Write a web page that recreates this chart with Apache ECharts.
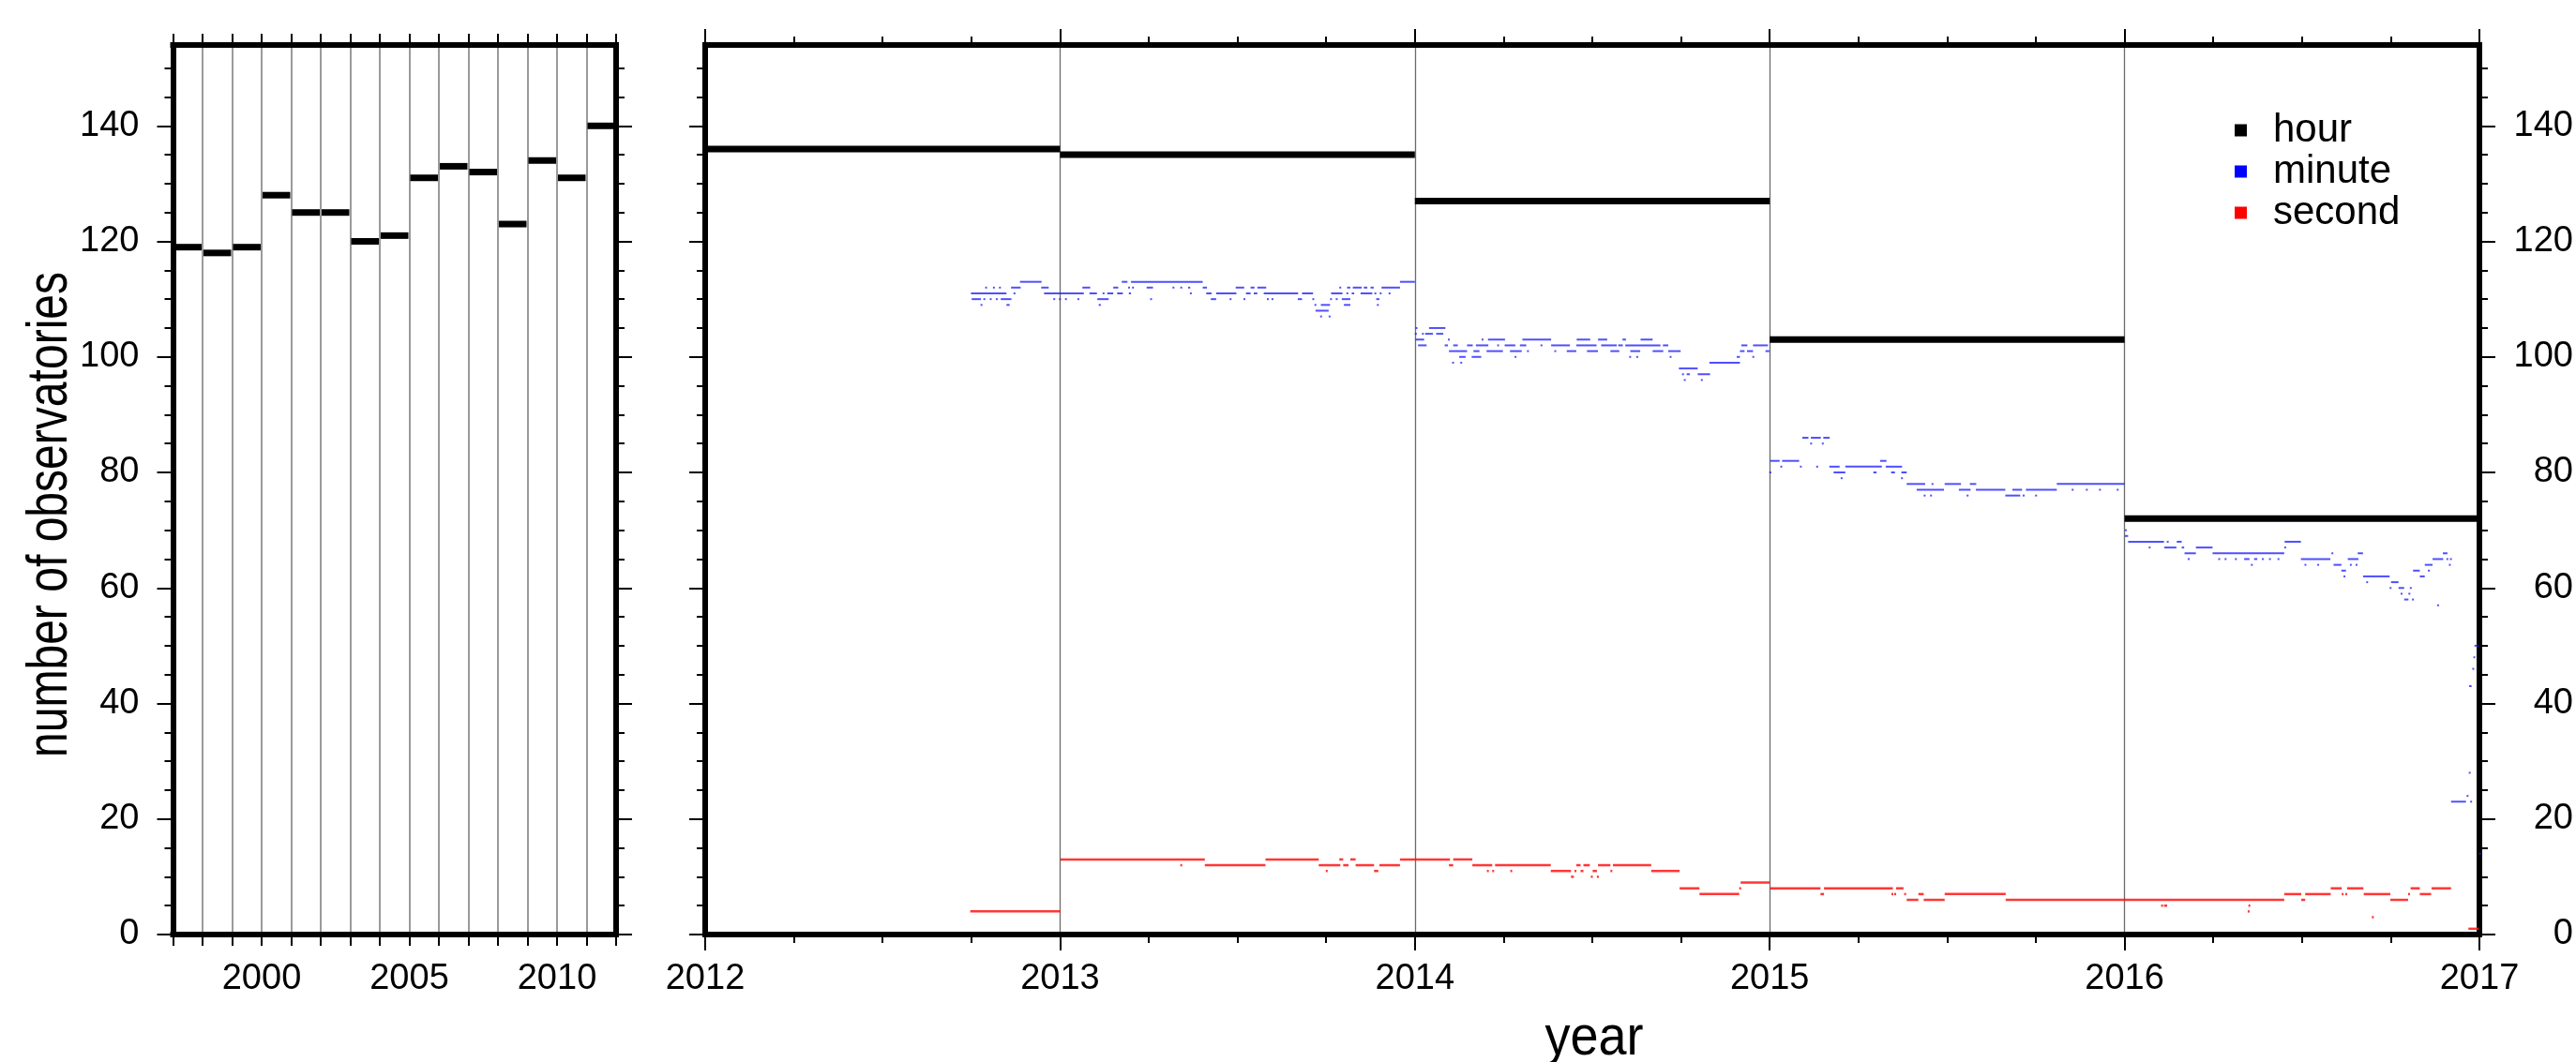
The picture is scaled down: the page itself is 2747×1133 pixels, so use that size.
<!DOCTYPE html>
<html>
<head>
<meta charset="utf-8">
<title>number of observatories</title>
<script src="https://cdn.jsdelivr.net/npm/echarts@6/dist/echarts.min.js"></script>
<style>
  html, body { margin: 0; padding: 0; background: #ffffff; }
  #chart { width: 2747px; height: 1133px; }
</style>
</head>
<body>
<div id="chart"></div>
<script>
// ---- data -------------------------------------------------------------
// yearly count of observatories delivering hourly means, 1997-2011
const earlyYears = [1997, 1998, 1999, 2000, 2001, 2002, 2003, 2004, 2005, 2006, 2007, 2008, 2009, 2010, 2011];
const earlyHourCounts = [119, 118, 119, 128, 125, 125, 120, 121, 131, 133, 132, 123, 134, 131, 140];

// yearly count of observatories delivering hourly means, 2012-2016
const recentYears = [2012, 2013, 2014, 2015, 2016];
const recentHourCounts = [136, 135, 127, 103, 72];

// daily counts of minute-data observatories, as runs [from, to, count] (decimal years)
const minuteRuns = [
  [2012.887, 2012.948, 113], [2013.174, 2013.19, 113], [2013.2, 2013.402, 113], [2013.958, 2014.0, 113],
  [2012.789, 2012.789, 112], [2012.811, 2012.811, 112], [2012.828, 2012.828, 112], [2012.862, 2012.889, 112],
  [2012.947, 2012.968, 112], [2013.063, 2013.085, 112], [2013.150, 2013.164, 112], [2013.192, 2013.192, 112],
  [2013.203, 2013.203, 112], [2013.244, 2013.262, 112], [2013.317, 2013.317, 112], [2013.339, 2013.339, 112],
  [2013.361, 2013.367, 112], [2013.402, 2013.414, 112], [2013.495, 2013.519, 112], [2013.537, 2013.548, 112],
  [2013.556, 2013.581, 112], [2013.787, 2013.787, 112], [2013.809, 2013.818, 112], [2013.825, 2013.85, 112],
  [2013.856, 2013.866, 112], [2013.875, 2013.884, 112], [2013.906, 2013.958, 112],
  [2012.749, 2012.849, 111], [2012.869, 2012.869, 111], [2012.955, 2013.067, 111], [2013.083, 2013.104, 111],
  [2013.12, 2013.12, 111], [2013.133, 2013.15, 111], [2013.161, 2013.177, 111], [2013.194, 2013.2, 111],
  [2013.366, 2013.366, 111], [2013.412, 2013.427, 111], [2013.44, 2013.497, 111], [2013.524, 2013.537, 111],
  [2013.546, 2013.556, 111], [2013.574, 2013.671, 111], [2013.682, 2013.713, 111], [2013.764, 2013.796, 111],
  [2013.807, 2013.807, 111], [2013.822, 2013.829, 111], [2013.847, 2013.88, 111], [2013.886, 2013.886, 111],
  [2013.901, 2013.901, 111], [2013.926, 2013.926, 111],
  [2012.751, 2012.777, 110], [2012.784, 2012.784, 110], [2012.802, 2012.802, 110], [2012.819, 2012.819, 110],
  [2012.833, 2012.863, 110], [2012.981, 2012.981, 110], [2012.997, 2013.001, 110], [2013.014, 2013.014, 110],
  [2013.049, 2013.049, 110], [2013.105, 2013.137, 110], [2013.254, 2013.254, 110], [2013.425, 2013.44, 110],
  [2013.478, 2013.478, 110], [2013.517, 2013.517, 110], [2013.583, 2013.583, 110], [2013.596, 2013.596, 110],
  [2013.67, 2013.682, 110], [2013.711, 2013.711, 110], [2013.761, 2013.761, 110], [2013.777, 2013.777, 110],
  [2013.794, 2013.818, 110], [2013.891, 2013.9, 110],
  [2012.776, 2012.776, 109], [2012.849, 2012.858, 109], [2013.109, 2013.115, 109], [2013.717, 2013.717, 109],
  [2013.735, 2013.761, 109], [2013.8, 2013.818, 109], [2013.893, 2013.893, 109],
  [2013.72, 2013.757, 108], [2013.733, 2013.733, 107], [2013.757, 2013.757, 107],
  [2014.002, 2014.002, 105], [2014.04, 2014.086, 105],
  [2014.0, 2014.0, 104], [2014.02, 2014.02, 104], [2014.029, 2014.051, 104], [2014.06, 2014.08, 104],
  [2014.002, 2014.026, 103], [2014.093, 2014.093, 103], [2014.188, 2014.188, 103], [2014.206, 2014.254, 103],
  [2014.303, 2014.384, 103], [2014.456, 2014.494, 103], [2014.516, 2014.542, 103], [2014.585, 2014.595, 103],
  [2014.636, 2014.67, 103],
  [2014.009, 2014.033, 102], [2014.084, 2014.093, 102], [2014.108, 2014.121, 102], [2014.147, 2014.163, 102],
  [2014.172, 2014.207, 102], [2014.232, 2014.232, 102], [2014.253, 2014.283, 102], [2014.296, 2014.314, 102],
  [2014.354, 2014.354, 102], [2014.384, 2014.437, 102], [2014.455, 2014.512, 102], [2014.525, 2014.569, 102],
  [2014.573, 2014.586, 102], [2014.593, 2014.692, 102], [2014.699, 2014.714, 102], [2014.92, 2014.937, 102],
  [2014.953, 2014.995, 102],
  [2014.096, 2014.147, 101], [2014.165, 2014.182, 101], [2014.202, 2014.248, 101], [2014.268, 2014.301, 101],
  [2014.316, 2014.316, 101], [2014.393, 2014.393, 101], [2014.428, 2014.455, 101], [2014.485, 2014.516, 101],
  [2014.551, 2014.576, 101], [2014.607, 2014.635, 101], [2014.67, 2014.7, 101], [2014.714, 2014.749, 101],
  [2014.916, 2014.929, 101], [2014.936, 2014.953, 101], [2014.988, 2014.999, 101],
  [2014.125, 2014.143, 100], [2014.16, 2014.187, 100], [2014.281, 2014.281, 100], [2014.604, 2014.604, 100],
  [2014.624, 2014.624, 100], [2014.718, 2014.718, 100], [2014.907, 2014.916, 100], [2014.951, 2014.951, 100],
  [2014.105, 2014.105, 99], [2014.128, 2014.128, 99], [2014.83, 2014.916, 99],
  [2014.744, 2014.797, 98],
  [2014.753, 2014.753, 97], [2014.766, 2014.775, 97], [2014.797, 2014.832, 97],
  [2014.758, 2014.758, 96], [2014.806, 2014.806, 96],
  [2015.092, 2015.109, 86], [2015.116, 2015.144, 86], [2015.151, 2015.169, 86],
  [2015.114, 2015.114, 85], [2015.147, 2015.147, 85],
  [2015.002, 2015.028, 82], [2015.035, 2015.083, 82], [2015.311, 2015.329, 82],
  [2015.03, 2015.03, 81], [2015.085, 2015.085, 81], [2015.131, 2015.131, 81], [2015.168, 2015.197, 81],
  [2015.213, 2015.316, 81], [2015.327, 2015.373, 81],
  [2014.999, 2014.999, 80], [2015.18, 2015.213, 80], [2015.292, 2015.301, 80], [2015.342, 2015.353, 80],
  [2015.371, 2015.386, 80],
  [2015.2, 2015.2, 79], [2015.37, 2015.37, 79],
  [2015.386, 2015.438, 78], [2015.456, 2015.456, 78], [2015.493, 2015.539, 78], [2015.564, 2015.582, 78],
  [2015.809, 2016.0, 78],
  [2015.414, 2015.491, 77], [2015.533, 2015.566, 77], [2015.581, 2015.664, 77], [2015.684, 2015.711, 77],
  [2015.722, 2015.809, 77], [2015.851, 2015.851, 77], [2015.891, 2015.891, 77], [2015.928, 2015.928, 77],
  [2015.978, 2015.978, 77],
  [2015.434, 2015.434, 76], [2015.452, 2015.452, 76], [2015.555, 2015.555, 76], [2015.664, 2015.706, 76],
  [2015.713, 2015.713, 76], [2015.748, 2015.748, 76],
  [2016.001, 2016.001, 70], [2016.001, 2016.01, 69],
  [2016.01, 2016.111, 68], [2016.119, 2016.119, 68], [2016.147, 2016.161, 68], [2016.451, 2016.497, 68],
  [2016.068, 2016.068, 67], [2016.112, 2016.146, 67], [2016.161, 2016.168, 67], [2016.201, 2016.248, 67],
  [2016.45, 2016.45, 67],
  [2016.169, 2016.201, 66], [2016.248, 2016.45, 66], [2016.583, 2016.583, 66], [2016.657, 2016.672, 66],
  [2016.897, 2016.91, 66],
  [2016.178, 2016.178, 65], [2016.264, 2016.264, 65], [2016.282, 2016.282, 65], [2016.311, 2016.311, 65],
  [2016.337, 2016.352, 65], [2016.365, 2016.374, 65], [2016.387, 2016.387, 65], [2016.407, 2016.407, 65],
  [2016.431, 2016.431, 65], [2016.497, 2016.58, 65], [2016.629, 2016.659, 65], [2016.868, 2016.898, 65],
  [2016.907, 2016.907, 65], [2016.917, 2016.917, 65],
  [2016.356, 2016.356, 64], [2016.507, 2016.507, 64], [2016.543, 2016.543, 64], [2016.589, 2016.611, 64],
  [2016.635, 2016.635, 64], [2016.651, 2016.651, 64], [2016.846, 2016.868, 64], [2016.914, 2016.914, 64],
  [2016.611, 2016.624, 63], [2016.813, 2016.832, 63], [2016.855, 2016.855, 63],
  [2016.617, 2016.617, 62], [2016.672, 2016.747, 62], [2016.832, 2016.846, 62],
  [2016.681, 2016.681, 61], [2016.751, 2016.772, 61],
  [2016.747, 2016.747, 60], [2016.772, 2016.788, 60], [2016.804, 2016.804, 60],
  [2016.778, 2016.778, 59], [2016.8, 2016.8, 59],
  [2016.788, 2016.8, 58], [2016.81, 2016.81, 58],
  [2016.881, 2016.881, 57],
  [2016.986, 2016.998, 50], [2016.983, 2016.983, 48], [2016.98, 2016.98, 46], [2016.971, 2016.978, 43],
  [2016.97, 2016.97, 28], [2016.964, 2016.968, 24], [2016.92, 2016.962, 23], [2016.974, 2016.974, 23],
  [2016.999, 2016.999, 14]
];

// daily counts of second-data observatories, as runs [from, to, count] (decimal years)
const secondRuns = [
  [2012.747, 2013.001, 4],
  [2013.001, 2013.408, 13], [2013.579, 2013.729, 13], [2013.787, 2013.798, 13], [2013.818, 2013.833, 13],
  [2013.958, 2014.099, 13], [2014.108, 2014.162, 13],
  [2013.339, 2013.339, 12], [2013.408, 2013.579, 12], [2013.729, 2013.79, 12], [2013.798, 2013.813, 12],
  [2013.833, 2013.885, 12], [2013.9, 2013.958, 12], [2014.096, 2014.108, 12], [2014.162, 2014.218, 12],
  [2014.226, 2014.383, 12], [2014.455, 2014.467, 12], [2014.475, 2014.493, 12], [2014.516, 2014.551, 12],
  [2014.558, 2014.666, 12],
  [2013.749, 2013.749, 11], [2013.885, 2013.897, 11], [2014.203, 2014.203, 11], [2014.218, 2014.218, 11],
  [2014.269, 2014.269, 11], [2014.383, 2014.44, 11], [2014.45, 2014.45, 11], [2014.467, 2014.475, 11],
  [2014.501, 2014.513, 11], [2014.551, 2014.551, 11], [2014.666, 2014.746, 11],
  [2014.44, 2014.448, 10], [2014.496, 2014.496, 10], [2014.513, 2014.513, 10],
  [2014.918, 2015.0, 9],
  [2014.746, 2014.802, 8], [2014.914, 2014.914, 8], [2015.0, 2015.143, 8], [2015.153, 2015.347, 8],
  [2015.356, 2015.377, 8], [2016.581, 2016.612, 8], [2016.627, 2016.673, 8], [2016.806, 2016.832, 8],
  [2016.865, 2016.92, 8],
  [2014.802, 2014.914, 7], [2015.143, 2015.153, 7], [2015.343, 2015.343, 7], [2015.351, 2015.351, 7],
  [2015.379, 2015.379, 7], [2015.419, 2015.434, 7], [2015.493, 2015.665, 7], [2016.45, 2016.498, 7],
  [2016.509, 2016.581, 7], [2016.612, 2016.612, 7], [2016.622, 2016.622, 7], [2016.674, 2016.749, 7],
  [2016.799, 2016.799, 7], [2016.832, 2016.864, 7],
  [2015.386, 2015.419, 6], [2015.434, 2015.493, 6], [2015.665, 2016.45, 6], [2016.498, 2016.509, 6],
  [2016.749, 2016.799, 6],
  [2016.103, 2016.103, 5], [2016.111, 2016.12, 5], [2016.349, 2016.349, 5],
  [2016.347, 2016.347, 4], [2016.697, 2016.697, 3],
  [2016.969, 2016.998, 1]
];

// axis ticks and labels
const countTicks = [0, 20, 40, 60, 80, 100, 120, 140];
const countMinorTicks = [0, 5, 10, 15, 20, 25, 30, 35, 40, 45, 50, 55, 60, 65, 70, 75,
                         80, 85, 90, 95, 100, 105, 110, 115, 120, 125, 130, 135, 140, 145, 150];
const earlyYearLabels = [2000, 2005, 2010];
const recentYearLabels = [2012, 2013, 2014, 2015, 2016, 2017];

// ---- drawing ----------------------------------------------------------
const FONT = '"Liberation Sans", Helvetica, Arial, sans-serif';
const countMax = 154;
const frameLine = { color: '#000000', width: 6, cap: 'square' };
const tickLine = { color: '#000000', width: 2 };
const yearText = (v) => String(v);

// horizontal bar from [from, to] at a count, through the axes' scales
function spanRenderer(thickness, color, inset) {
  return function (params, api) {
    const v = api.value(2);
    const a = api.coord([api.value(0), v]);
    const b = api.coord([api.value(1), v]);
    const w = Math.max(b[0] - a[0] - 2 * inset, 2);
    return {
      type: 'rect',
      shape: { x: a[0] + inset, y: a[1] - thickness / 2, width: w, height: thickness },
      style: { fill: color }
    };
  };
}

// count axis: major (labelled every 20) or minor (every 5) ticks on one side
function countAxis(gridIndex, position, ticks, tickLen, label) {
  return {
    gridIndex: gridIndex, type: 'value', position: position,
    min: 0, max: countMax,
    axisLine: { show: true, onZero: false, lineStyle: frameLine },
    axisTick: { show: true, inside: false, length: tickLen, lineStyle: tickLine, customValues: ticks },
    axisLabel: label
      ? Object.assign({ show: true, customValues: countTicks, fontSize: 38, color: '#000', fontFamily: FONT }, label)
      : { show: false },
    splitLine: { show: false }
  };
}

const earlySpans = earlyYears.map((y, i) => [y, y + 1, earlyHourCounts[i]]);
const recentSpans = recentYears.map((y, i) => [y, y + 1, recentHourCounts[i]]);

const option = {
  animation: false,
  backgroundColor: '#ffffff',
  textStyle: { fontFamily: FONT, color: '#000' },
  grid: [
    { left: 184.5, top: 48, width: 472.5, height: 949 },
    { left: 752, top: 48, width: 1897, height: 949 }
  ],
  xAxis: [
    { // 1997-2011 panel, bottom
      gridIndex: 0, type: 'value', position: 'bottom', min: 1997, max: 2012, interval: 1,
      axisLine: { show: true, onZero: false, lineStyle: frameLine },
      axisTick: { show: true, inside: false, length: 12, lineStyle: tickLine },
      axisLabel: { show: true, customValues: earlyYearLabels, formatter: yearText, margin: 29, fontSize: 38, color: '#000', fontFamily: FONT },
      splitLine: { show: true, lineStyle: { color: '#9a9a9a', width: 2 } }
    },
    { // 1997-2011 panel, top
      gridIndex: 0, type: 'value', position: 'top', min: 1997, max: 2012, interval: 1,
      axisLine: { show: true, onZero: false, lineStyle: frameLine },
      axisTick: { show: true, inside: false, length: 12, lineStyle: tickLine },
      axisLabel: { show: false },
      splitLine: { show: false }
    },
    { // 2012-2016 panel, bottom
      gridIndex: 1, type: 'value', position: 'bottom', min: 2012, max: 2017, interval: 1,
      axisLine: { show: true, onZero: false, lineStyle: frameLine },
      axisTick: { show: true, inside: false, length: 17, lineStyle: tickLine },
      minorTick: { show: true, splitNumber: 4, length: 9, lineStyle: tickLine },
      axisLabel: { show: true, customValues: recentYearLabels, formatter: yearText, margin: 29, fontSize: 38, color: '#000', fontFamily: FONT },
      splitLine: { show: true, lineStyle: { color: '#6a6a6a', width: 1.3 } }
    },
    { // 2012-2016 panel, top
      gridIndex: 1, type: 'value', position: 'top', min: 2012, max: 2017, interval: 1,
      axisLine: { show: true, onZero: false, lineStyle: frameLine },
      axisTick: { show: true, inside: false, length: 17, lineStyle: tickLine },
      minorTick: { show: true, splitNumber: 4, length: 9, lineStyle: tickLine },
      axisLabel: { show: false },
      splitLine: { show: false }
    }
  ],
  yAxis: [
    countAxis(0, 'left', countTicks, 17, { margin: 36 }),
    countAxis(0, 'right', countTicks, 17, null),
    countAxis(0, 'left', countMinorTicks, 9, null),
    countAxis(0, 'right', countMinorTicks, 9, null),
    countAxis(1, 'left', countTicks, 17, null),
    countAxis(1, 'right', countTicks, 17, { margin: 100, align: 'right' }),
    countAxis(1, 'left', countMinorTicks, 9, null),
    countAxis(1, 'right', countMinorTicks, 9, null)
  ],
  legend: {
    data: ['hour', 'minute', 'second'],
    orient: 'vertical', left: 2378, top: 113,
    icon: 'rect', itemWidth: 13, itemHeight: 13, itemGap: 2,
    textStyle: { fontSize: 42, lineHeight: 42, color: '#000', fontFamily: FONT, padding: [0, 0, 0, 23] },
    selectedMode: false
  },
  graphic: [
    { // axis titles, set in a narrow face
      type: 'text', x: 54, y: 549, rotation: Math.PI / 2, scaleX: 0.775,
      style: {
        text: 'number of observatories', font: '62px ' + FONT,
        fill: '#000', align: 'center', verticalAlign: 'middle'
      }
    },
    {
      type: 'text', x: 1700, y: 1108, scaleX: 0.9,
      style: {
        text: 'year', font: '60px ' + FONT,
        fill: '#000', align: 'center', verticalAlign: 'middle'
      }
    }
  ],
  series: [
    {
      name: 'hour (1997-2011)', type: 'custom', xAxisIndex: 0, yAxisIndex: 0,
      encode: { x: [0, 1], y: 2 }, data: earlySpans,
      itemStyle: { color: '#000' }, renderItem: spanRenderer(7, '#000000', 1)
    },
    {
      name: 'hour', type: 'custom', xAxisIndex: 2, yAxisIndex: 4,
      encode: { x: [0, 1], y: 2 }, data: recentSpans,
      itemStyle: { color: '#000' }, renderItem: spanRenderer(7, '#000000', 0), z: 4
    },
    {
      name: 'minute', type: 'custom', xAxisIndex: 2, yAxisIndex: 4,
      encode: { x: [0, 1], y: 2 }, data: minuteRuns,
      itemStyle: { color: '#0000ff' }, renderItem: spanRenderer(2, 'rgba(20,20,255,0.75)', 0)
    },
    {
      name: 'second', type: 'custom', xAxisIndex: 2, yAxisIndex: 4,
      encode: { x: [0, 1], y: 2 }, data: secondRuns,
      itemStyle: { color: '#ff0000' }, renderItem: spanRenderer(2.5, 'rgba(255,20,20,0.85)', 0)
    }
  ]
};

const chart = echarts.init(document.getElementById('chart'), null, { renderer: 'canvas', width: 2747, height: 1133 });
chart.setOption(option);
</script>
</body>
</html>
